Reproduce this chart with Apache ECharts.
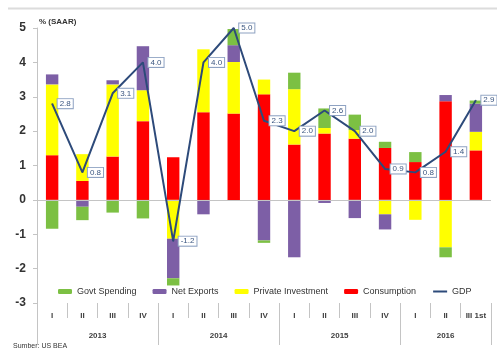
<!DOCTYPE html>
<html>
<head>
<meta charset="utf-8">
<script src="https://cdn.jsdelivr.net/npm/echarts@6/dist/echarts.min.js"></script>
<style>
  html, body { margin: 0; padding: 0; background: #fff; }
  #chart { width: 497px; height: 350px; }
</style>
</head>
<body>
<div id="chart"></div>
<script>
// Quarterly contributions to real GDP growth, percentage points (SAAR)
const quarters = ['I', 'II', 'III', 'IV', 'I', 'II', 'III', 'IV', 'I', 'II', 'III', 'IV', 'I', 'II', 'III 1st'];
const years = ['2013', '2014', '2015', '2016'];
const quartersPerYear = [4, 4, 4, 3];

const consumption       = [1.30, 0.55, 1.26, 2.29, 1.24, 2.55, 2.51, 3.07, 1.61, 1.93, 1.78, 1.51, 1.10, 2.87, 1.44];
const privateInvestment = [2.06, 0.78, 2.10, 0.90, -1.13, 1.83, 1.50, 0.43, 1.61, 0.16, 0.25, -0.42, -0.58, -1.38, 0.54];
const netExports        = [0.29, -0.20, 0.12, 1.28, -1.15, -0.42, 0.49, -1.18, -1.67, -0.09, -0.53, -0.44, 0.00, 0.18, 0.82];
const govtSpending      = [-0.84, -0.39, -0.37, -0.54, -0.21, 0.00, 0.47, -0.07, 0.48, 0.57, 0.45, 0.18, 0.29, -0.29, 0.09];
const gdp               = [2.8, 0.8, 3.1, 4.0, -1.2, 4.0, 5.0, 2.3, 2.0, 2.6, 2.0, 0.9, 0.8, 1.4, 2.9];

const yTicks = { min: -3, max: 5, interval: 1 };

// Year row: two slots per quarter so a year name can sit between quarters
const yearSlots = new Array(quarters.length * 2 + 1).fill('');
const yearBounds = new Set([0]);
let start = 0;
years.forEach((y, k) => {
  const n = quartersPerYear[k];
  yearSlots[2 * start + n] = y;
  start += n;
  yearBounds.add(2 * start);
});

const FONT = '"Liberation Sans", Arial, sans-serif';
const GRID_GRAY = '#c4c4c4';

const chart = echarts.init(document.getElementById('chart'), null, { renderer: 'canvas' });

const barSeries = (name, data, color, extra) => Object.assign({
  name, type: 'bar', stack: 'contrib', data,
  barWidth: '41%',
  itemStyle: { color },
  emphasis: { disabled: true }
}, extra || {});

chart.setOption({
  animation: false,
  backgroundColor: '#ffffff',
  grid: { left: 37, right: 6, top: 28, bottom: 47, containLabel: false },
  legend: {
    left: 58, top: 287, padding: 0,
    itemWidth: 14, itemHeight: 5, itemGap: 16,
    textStyle: { fontFamily: FONT, fontSize: 9, color: '#333' },
    data: [
      { name: 'Govt Spending' },
      { name: 'Net Exports' },
      { name: 'Private Investment' },
      { name: 'Consumption' },
      { name: 'GDP', itemStyle: { opacity: 0 } }
    ]
  },
  xAxis: [
    {
      type: 'category', data: quarters, position: 'bottom',
      axisLine: { show: false, onZero: false },
      axisTick: { show: true, interval: 0, length: 15, lineStyle: { color: GRID_GRAY } },
      axisLabel: { interval: 0, margin: 9, fontFamily: FONT, fontSize: 8, fontWeight: 'bold', color: '#404040' }
    },
    {
      type: 'category', data: yearSlots, position: 'bottom', boundaryGap: false,
      axisLine: { show: false, onZero: false },
      axisTick: { show: true, length: 42, interval: (i) => yearBounds.has(i), lineStyle: { color: GRID_GRAY } },
      axisLabel: { interval: 0, margin: 29, fontFamily: FONT, fontSize: 8, fontWeight: 'bold', color: '#404040' }
    }
  ],
  yAxis: {
    type: 'value', min: yTicks.min, max: yTicks.max, interval: yTicks.interval,
    axisLine: { show: true, lineStyle: { color: GRID_GRAY } },
    axisTick: { show: true, length: 4, lineStyle: { color: GRID_GRAY } },
    splitLine: { show: false },
    axisLabel: { margin: 11, fontFamily: FONT, fontSize: 12, fontWeight: 'bold', color: '#333' }
  },
  series: [
    barSeries('Consumption', consumption, '#ff0000', {
      markLine: {
        silent: true, symbol: 'none', label: { show: false },
        lineStyle: { color: GRID_GRAY, type: 'solid', width: 1 },
        data: [{ yAxis: 0 }]
      }
    }),
    barSeries('Private Investment', privateInvestment, '#ffff00'),
    barSeries('Net Exports', netExports, '#7d5fa6'),
    barSeries('Govt Spending', govtSpending, '#7cc043'),
    {
      name: 'GDP', type: 'line', data: gdp, z: 5,
      symbol: 'circle', symbolSize: 1, showSymbol: true,
      lineStyle: { color: '#2d4a7a', width: 2 },
      itemStyle: { color: '#2d4a7a' },
      emphasis: { disabled: true },
      label: {
        show: true, position: 'right', distance: 5,
        formatter: (p) => p.value.toFixed(1),
        fontFamily: FONT, fontSize: 8, color: '#3b5680',
        backgroundColor: '#ffffff', borderColor: '#8ea2c2', borderWidth: 1,
        padding: [1, 2, 0, 2]
      }
    }
  ],
  graphic: [
    { type: 'line', shape: { x1: 8, y1: 8.5, x2: 497, y2: 8.5 }, style: { stroke: '#dcdcdc', lineWidth: 2 }, silent: true },
    { type: 'text', left: 39, top: 18, style: { text: '% (SAAR)', font: 'bold 8px ' + FONT, fill: '#333' }, silent: true },
    { type: 'text', left: 13, top: 343, style: { text: 'Sumber: US BEA', font: '7px ' + FONT, fill: '#333' }, silent: true }
  ]
});
</script>
</body>
</html>
